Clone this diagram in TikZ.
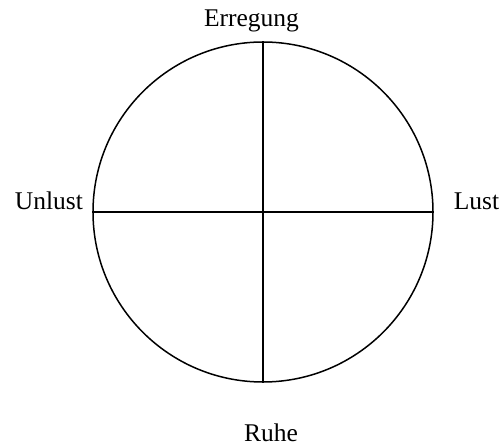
\documentclass[tikz,border=0pt]{standalone}
\usepackage{fontspec}
\setmainfont{Liberation Serif}
\begin{document}
\begin{tikzpicture}[x=1pt,y=1pt,
  lbl/.style={anchor=base,inner sep=0pt,font=\fontsize{25.5}{30}\selectfont},
  ring/.style={circle,draw,line width=1.5pt,minimum size=340pt,inner sep=0pt},
  axis/.style={line width=1.5pt}]
\useasboundingbox (0,0) rectangle (501,445);
\node[ring] (c) at (263,233) {};
\draw[axis] (c.north) -- (c.south);
\draw[axis] (c.west) -- (c.east);
\node[lbl] (e) at (251.5,418) {Erregung};
\node[lbl] (u) at (49,235) {Unlust};
\node[lbl] (l) at (476.5,235) {Lust};
\node[lbl] (r) at (271,4) {Ruhe};
\end{tikzpicture}
\end{document}
